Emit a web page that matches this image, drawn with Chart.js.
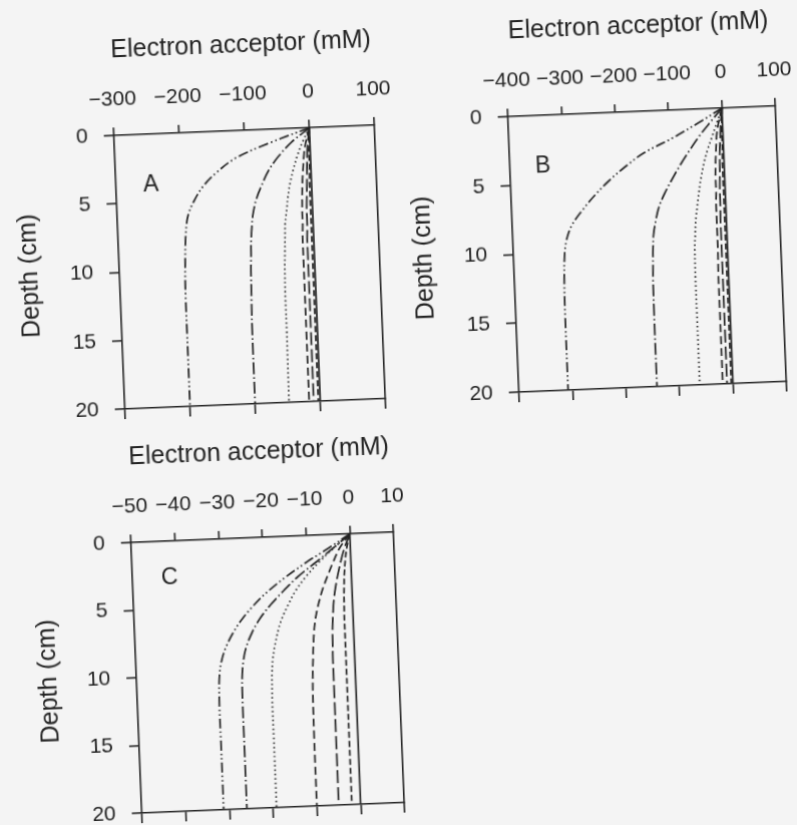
<!DOCTYPE html>
<html>
<head>
<meta charset="utf-8">
<script src="https://cdn.jsdelivr.net/npm/chart.js@4.4.1/dist/chart.umd.min.js"></script>
<style>
  html, body { margin: 0; padding: 0; background: #f4f4f4; }
  body { width: 797px; height: 825px; position: relative; overflow: hidden; }
  .panel { position: absolute; }
  .panel canvas { transform: rotate(-2.3deg); }
</style>
</head>
<body>
<div class="panel" id="pA"><canvas id="cA"></canvas></div>
<div class="panel" id="pB"><canvas id="cB"></canvas></div>
<div class="panel" id="pC"><canvas id="cC"></canvas></div>
<script>
/* depth profiles of electron acceptor, three bioturbation cases (A, B, C) */
const depth = [0, 1, 2, 3, 4, 5, 6, 7, 8, 9, 10, 12, 15, 20];

const ticksA = [-300, -200, -100, 0, 100];
const ticksB = [-400, -300, -200, -100, 0, 100];
const ticksC = [-50, -40, -30, -20, -10, 0, 10];
const depthTicks = [0, 5, 10, 15, 20];

// panel A (mM)
const aDashDotDot = [0, -62, -115, -145, -167, -181, -191, -195, -197, -198, -199, -200, -200, -200];
const aDashDot    = [0, -28, -49, -65, -76, -85, -91, -94, -96, -97, -98, -99, -100, -100];
const aDotted     = [0, -11, -20, -27, -33, -37, -40, -43, -44, -45, -46, -47, -47, -48];
const aDashed     = [0, -6, -10, -12, -14, -15, -16, -16, -17, -17, -17, -17, -17, -17];
const aLongDash   = [0, -3, -5, -6, -7, -8, -9, -9, -10, -10, -10, -10, -10, -10];
const aShortDash  = [0, -1, -2, -2, -3, -3, -3, -3, -3, -3, -3, -3, -3, -3];
const aSolid      = [0, 0, 0, 0, 0, 0, 0, 0, 0, 0, 0, 0, 0, 0];

// panel B (mM)
const bDashDotDot = [0, -45, -93, -148, -186, -218, -245, -268, -288, -299, -304, -307, -308, -308];
const bDashDot    = [0, -23, -45, -64, -82, -98, -113, -125, -132, -137, -139, -141, -142, -142];
const bDotted     = [0, -10, -20, -30, -38, -44, -49, -53, -57, -59, -61, -62, -62, -62];
const bDashed     = [0, -7, -12, -14, -16, -17, -17, -18, -18, -18, -18, -19, -19, -19];
const bLongDash   = [0, -3, -5, -7, -8, -9, -10, -10, -11, -11, -11, -11, -11, -11];
const bShortDash  = [0, -1, -2, -2, -3, -3, -3, -3, -3, -3, -3, -3, -3, -3];
const bSolid      = [0, 0, 0, 0, 0, 0, 0, 0, 0, 0, 0, 0, 0, 0];

// panel C (mM)
const cDashDotDot = [0, -5, -10.3, -15, -19.2, -22.6, -25.4, -27.6, -29.3, -30.4, -31, -31.3, -31.3, -31.3];
const cDashDot    = [0, -3.9, -8, -12.2, -15.6, -18.7, -21.3, -23.2, -24.6, -25.4, -25.8, -26, -26, -26];
const cDotted     = [0, -3.8, -7.3, -10.3, -12.8, -14.6, -16.2, -17.3, -18.1, -18.7, -19, -19.2, -19.2, -19.2];
const cDashed     = [0, -2.4, -4, -5.4, -6.7, -7.7, -8.5, -9, -9.3, -9.5, -9.7, -9.9, -10, -10];
const cLongDash   = [0, -1.3, -2.3, -3.1, -3.8, -4.3, -4.6, -4.8, -4.9, -5, -5, -5, -5, -5];
const cShortDash  = [0, -0.8, -1.3, -1.6, -1.8, -1.9, -2, -2, -2, -2, -2, -2, -2, -2];
const cSolid      = [0, 0, 0, 0, 0, 0, 0, 0, 0, 0, 0, 0, 0, 0];

// line styles, same order in every panel
const DASHES = [
  [10, 3, 1.5, 3, 1.5, 3],  // dash-dot-dot
  [12, 3, 1.5, 3],          // dash-dot
  [1.5, 3],                 // dotted
  [8, 4],                   // dashed
  [13, 4],                  // long dash
  [6, 3],                   // short dash
  [],                       // solid
];

const FONT = "'Liberation Sans', Arial, Helvetica, sans-serif";
const INK = '#222';
// fixed axis boxes around each plot area
const L = 110, T = 100, R = 24, BOT = 14;

function fmt(v) { return String(v).replace('-', '\u2212'); }

function fixed(size) {
  return (scale) => {
    if (scale.isHorizontal()) scale.height = size; else scale.width = size;
  };
}

const letterPlugin = {
  id: 'letter',
  afterDraw(chart, args, opts) {
    const { ctx, chartArea } = chart;
    ctx.save();
    ctx.font = `23px ${FONT}`;
    ctx.fillStyle = INK;
    ctx.textAlign = 'center';
    ctx.textBaseline = 'middle';
    ctx.fillText(opts.text, chartArea.left + opts.dx, chartArea.top + opts.dy);
    ctx.restore();
  },
};

// layout eats a few px beyond the fixed axis sizes; grow the box until the plot area is right
function fitArea(chart, div, box) {
  for (let k = 0; k < 3; k++) {
    const ca = chart.chartArea;
    const dw = box.w - (ca.right - ca.left);
    const dh = box.h - (ca.bottom - ca.top);
    if (Math.abs(dw) < 0.5 && Math.abs(dh) < 0.5) break;
    div.style.width = (parseFloat(div.style.width) + dw) + 'px';
    div.style.height = (parseFloat(div.style.height) + dh) + 'px';
    chart.resize();
  }
}

function panel(canvasId, divId, letter, tickVals, series, box) {
  const div = document.getElementById(divId);
  div.style.left = box.left + 'px';
  div.style.top = box.top + 'px';
  div.style.width = (L + box.w + R) + 'px';
  div.style.height = (T + box.h + BOT) + 'px';
  // the scan is tilted: rotate the canvas (not its container) round the plot centre
  const cv = document.getElementById(canvasId);
  cv.style.transformOrigin = `${L + box.w / 2}px ${T + box.h / 2}px`;

  const xMin = tickVals[0], xMax = tickVals[tickVals.length - 1];
  const axisLine = { display: true, color: INK, width: 1.6 };

  const chart = new Chart(cv, {
    type: 'scatter',
    data: {
      datasets: series.map((vals, i) => ({
        data: depth.map((d, k) => ({ x: vals[k], y: d })),
        showLine: true,
        borderColor: INK,
        borderWidth: 1.7,
        borderDash: DASHES[i],
        pointRadius: 0,
        tension: 0.35,
        fill: false,
        xAxisID: 'x',
        yAxisID: 'y',
      })),
    },
    plugins: [letterPlugin],
    options: {
      responsive: true,
      maintainAspectRatio: false,
      animation: false,
      layout: { padding: 0 },
      plugins: {
        legend: { display: false },
        tooltip: { enabled: false },
        letter: { text: letter, dx: box.ldx, dy: box.ldy },
      },
      scales: {
        x: {
          type: 'linear', position: 'top', min: xMin, max: xMax,
          afterFit: fixed(T),
          afterBuildTicks: (s) => { s.ticks = tickVals.map((v) => ({ value: v })); },
          ticks: { autoSkip: false, maxRotation: 0, padding: 15,
                   color: INK, font: { family: FONT, size: 21 }, callback: fmt },
          grid: { drawOnChartArea: false, tickLength: 8, color: INK, lineWidth: 1.6 },
          border: axisLine,
          title: { display: true, text: 'Electron acceptor (mM)', color: INK,
                   font: { family: FONT, size: 25 }, padding: { top: 0, bottom: 0 } },
        },
        x2: {
          type: 'linear', position: 'bottom', min: xMin, max: xMax,
          afterFit: fixed(BOT),
          afterBuildTicks: (s) => { s.ticks = tickVals.map((v) => ({ value: v })); },
          ticks: { display: false },
          grid: { drawOnChartArea: false, tickLength: 10, color: INK, lineWidth: 1.6 },
          border: axisLine,
        },
        y: {
          type: 'linear', position: 'left', reverse: true, min: 0, max: 20,
          afterFit: fixed(L),
          afterBuildTicks: (s) => { s.ticks = depthTicks.map((v) => ({ value: v })); },
          ticks: { autoSkip: false, padding: 16,
                   color: INK, font: { family: FONT, size: 21 } },
          grid: { drawOnChartArea: false, tickLength: 10, color: INK, lineWidth: 1.6 },
          border: axisLine,
          title: { display: true, text: 'Depth (cm)', color: INK,
                   font: { family: FONT, size: 25 }, padding: { top: box.tpad, bottom: 0 } },
        },
        y2: {
          type: 'linear', position: 'right', min: 0, max: 20,
          afterFit: fixed(R),
          ticks: { display: false },
          grid: { display: false },
          border: axisLine,
        },
      },
    },
  });
  fitArea(chart, div, box);
  return chart;
}

panel('cA', 'pA', 'A', ticksA,
  [aDashDotDot, aDashDot, aDotted, aDashed, aLongDash, aShortDash, aSolid],
  { left: 9, top: 30, w: 260, h: 273, tpad: 6, ldx: 35, ldy: 51 });

panel('cB', 'pB', 'B', ticksB,
  [bDashDotDot, bDashDot, bDotted, bDashed, bLongDash, bShortDash, bSolid],
  { left: 403, top: 11, w: 267, h: 275, tpad: 6, ldx: 33, ldy: 51 });

panel('cC', 'pC', 'C', ticksC,
  [cDashDotDot, cDashDot, cDotted, cDashed, cLongDash, cShortDash, cSolid],
  { left: 26, top: 437, w: 262, h: 270, tpad: 8, ldx: 37, ldy: 37 });
</script>
</body>
</html>
